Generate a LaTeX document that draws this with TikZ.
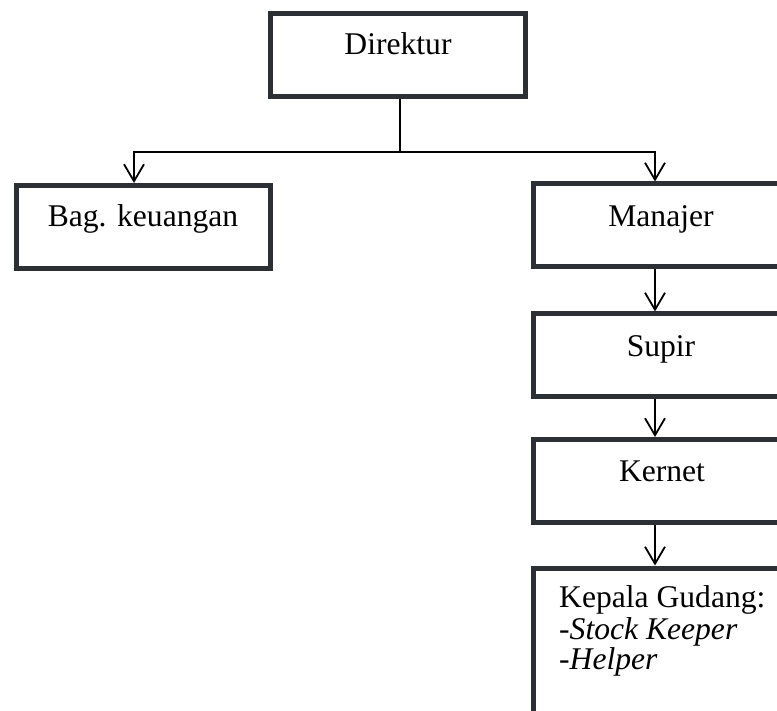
\documentclass[tikz,border=0pt]{standalone}
\usepackage{fontspec}
\setmainfont{Liberation Serif}
\usetikzlibrary{arrows.meta}
\definecolor{boxline}{RGB}{44,48,53}
\begin{document}
\begin{tikzpicture}[x=1pt,y=1pt,
  orgbox/.style={draw=boxline, line width=5pt, rectangle, minimum width=255pt, minimum height=83pt, inner sep=0pt},
  lbl/.style={font=\fontsize{31.6}{31.5}\selectfont, inner sep=0pt, anchor=base},
  conn/.style={line width=1.8pt, black},
  arr/.style={conn, -{Straight Barb[length=17pt, width=20pt, line width=1.8pt]}}]
\useasboundingbox (0,0) rectangle (777,-711);
\clip (0,0) rectangle (777,-711);
% boxes
\node[orgbox] (dir) at (398,-55) {};
\node[orgbox, minimum width=254pt] (bag) at (143.5,-227) {};
\node[orgbox] (mgr) at (661,-225.5) {};
\node[orgbox] (sup) at (661,-355.5) {};
\node[orgbox] (ker) at (661,-481) {};
\node[orgbox, minimum height=200pt, anchor=north] (kep) at (661,-565.5) {};
% labels
\node[lbl] (tdir) at (398,-55) {Direktur};
\node[lbl] (tbag) at (143,-227) {Bag. keuangan};
\node[lbl] (tmgr) at (661,-227) {Manajer};
\node[lbl] (tsup) at (661,-357) {Supir};
\node[lbl] (tker) at (662,-482) {Kernet};
\node[lbl, anchor=base west] (tkep1) at (559,-607) {Kepala Gudang:};
\node[lbl, anchor=base west] (tkep2) at (559,-639.5) {-\textit{Stock Keeper}};
\node[lbl, anchor=base west] (tkep3) at (559,-669.5) {-\textit{Helper}};
% connectors
\coordinate (j) at (400,-152);
\coordinate (lx) at (134,0);
\coordinate (rx) at (655,0);
\draw[conn] (dir.south -| j) -- (j);
\draw[arr] (j) -| (bag.north -| lx);
\draw[arr] (j) -| (mgr.north -| rx);
\draw[arr] (mgr.south -| rx) -- (sup.north -| rx);
\draw[arr] (sup.south -| rx) -- (ker.north -| rx);
\draw[arr] (ker.south -| rx) -- (kep.north -| rx);
\end{tikzpicture}
\end{document}
